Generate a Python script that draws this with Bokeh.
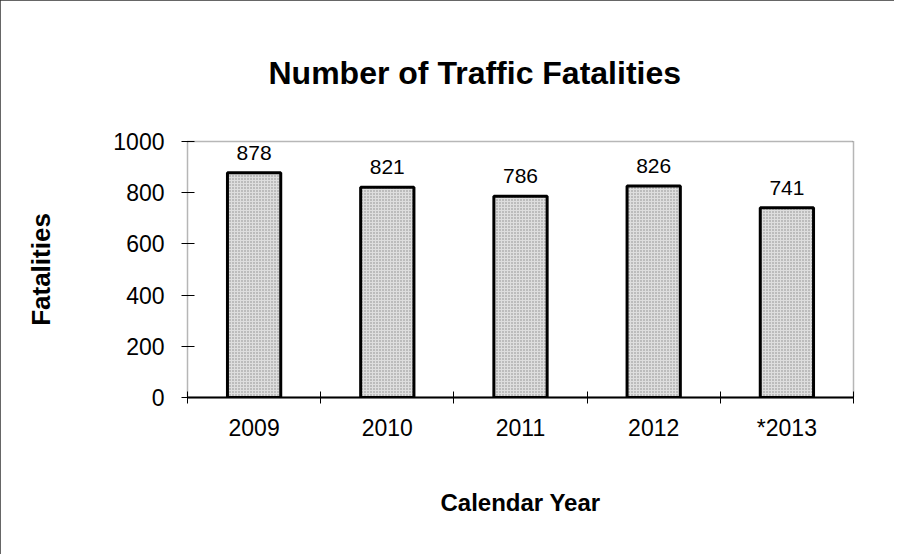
from bokeh.plotting import figure
from bokeh.models import LinearAxis, FixedTicker, Range1d, ColumnDataSource, LabelSet
from bokeh.core.properties import value
from bokeh.embed import file_html
from bokeh.resources import INLINE

years = ["2009", "2010", "2011", "2012", "*2013"]
fatalities = [878, 821, 786, 826, 741]
y_ticks = [0, 200, 400, 600, 800, 1000]
title_text = "Number of Traffic Fatalities"
x_label = "Calendar Year"
y_label = "Fatalities"

FONT = "Liberation Sans"

src = ColumnDataSource(dict(years=years, fatalities=fatalities,
                            labels=[str(v) for v in fatalities]))

p = figure(width=894, height=554, x_range=years, y_range=Range1d(0, 1000),
           output_backend="svg", toolbar_location=None,
           x_axis_type=None, y_axis_type=None,
           min_border_left=187, min_border_right=41,
           min_border_top=141, min_border_bottom=157)
p.background_fill_color = "white"
p.border_fill_color = "white"
p.outline_line_color = "#6e6e6e"
p.outline_line_width = 1.5
p.outline_line_dash = "1 1"
p.styles = {"outline": "1px solid #333", "outline-offset": "-1px"}

p.title.text = title_text
p.title.align = "left"
p.title.offset = 81
p.title.standoff = 102
p.title.text_font = FONT
p.title.text_font_size = "32px"
p.title.text_font_style = "bold"
p.title.text_color = "black"

p.vbar(x="years", top="fatalities", width=0.4, source=src,
       fill_color="#dedede", line_color="black", line_width=3,
       hatch_pattern="dot", hatch_color="#8a8a8a", hatch_scale=3, hatch_weight=1)

p.add_layout(LabelSet(x="years", y="fatalities", text="labels", source=src,
                      text_align="center", text_baseline="bottom", y_offset=13,
                      text_font=value(FONT), text_font_size="21px", text_color="black"))

n = len(years)
xaxis = LinearAxis(
    ticker=FixedTicker(ticks=[i + 0.5 for i in range(n)], minor_ticks=list(range(n + 1))),
    major_label_overrides={i + 0.5: years[i] for i in range(n)},
)
xaxis.axis_line_color = "black"
xaxis.axis_line_width = 2
xaxis.major_tick_line_color = None
xaxis.major_tick_in = 0
xaxis.major_tick_out = 6
xaxis.minor_tick_line_color = "black"
xaxis.minor_tick_in = 6
xaxis.minor_tick_out = 6
xaxis.major_label_standoff = 11
xaxis.major_label_text_font = FONT
xaxis.major_label_text_font_size = "23px"
xaxis.major_label_text_color = "black"
xaxis.axis_label = x_label
xaxis.axis_label_text_font = FONT
xaxis.axis_label_text_font_size = "24px"
xaxis.axis_label_text_font_style = "bold"
xaxis.axis_label_text_color = "black"
xaxis.axis_label_standoff = 45
p.add_layout(xaxis, "below")

yaxis = LinearAxis(ticker=FixedTicker(ticks=y_ticks, minor_ticks=[]))
yaxis.axis_line_color = None
yaxis.major_tick_line_color = "black"
yaxis.major_tick_in = 7
yaxis.major_tick_out = 6
yaxis.minor_tick_line_color = None
yaxis.major_label_standoff = 17
yaxis.major_label_text_font = FONT
yaxis.major_label_text_font_size = "23px"
yaxis.major_label_text_color = "black"
yaxis.axis_label = y_label
yaxis.axis_label_text_font = FONT
yaxis.axis_label_text_font_size = "26px"
yaxis.axis_label_text_font_style = "bold"
yaxis.axis_label_text_color = "black"
yaxis.axis_label_standoff = 54
p.add_layout(yaxis, "left")

open("out.html", "w").write(file_html(p, INLINE))
